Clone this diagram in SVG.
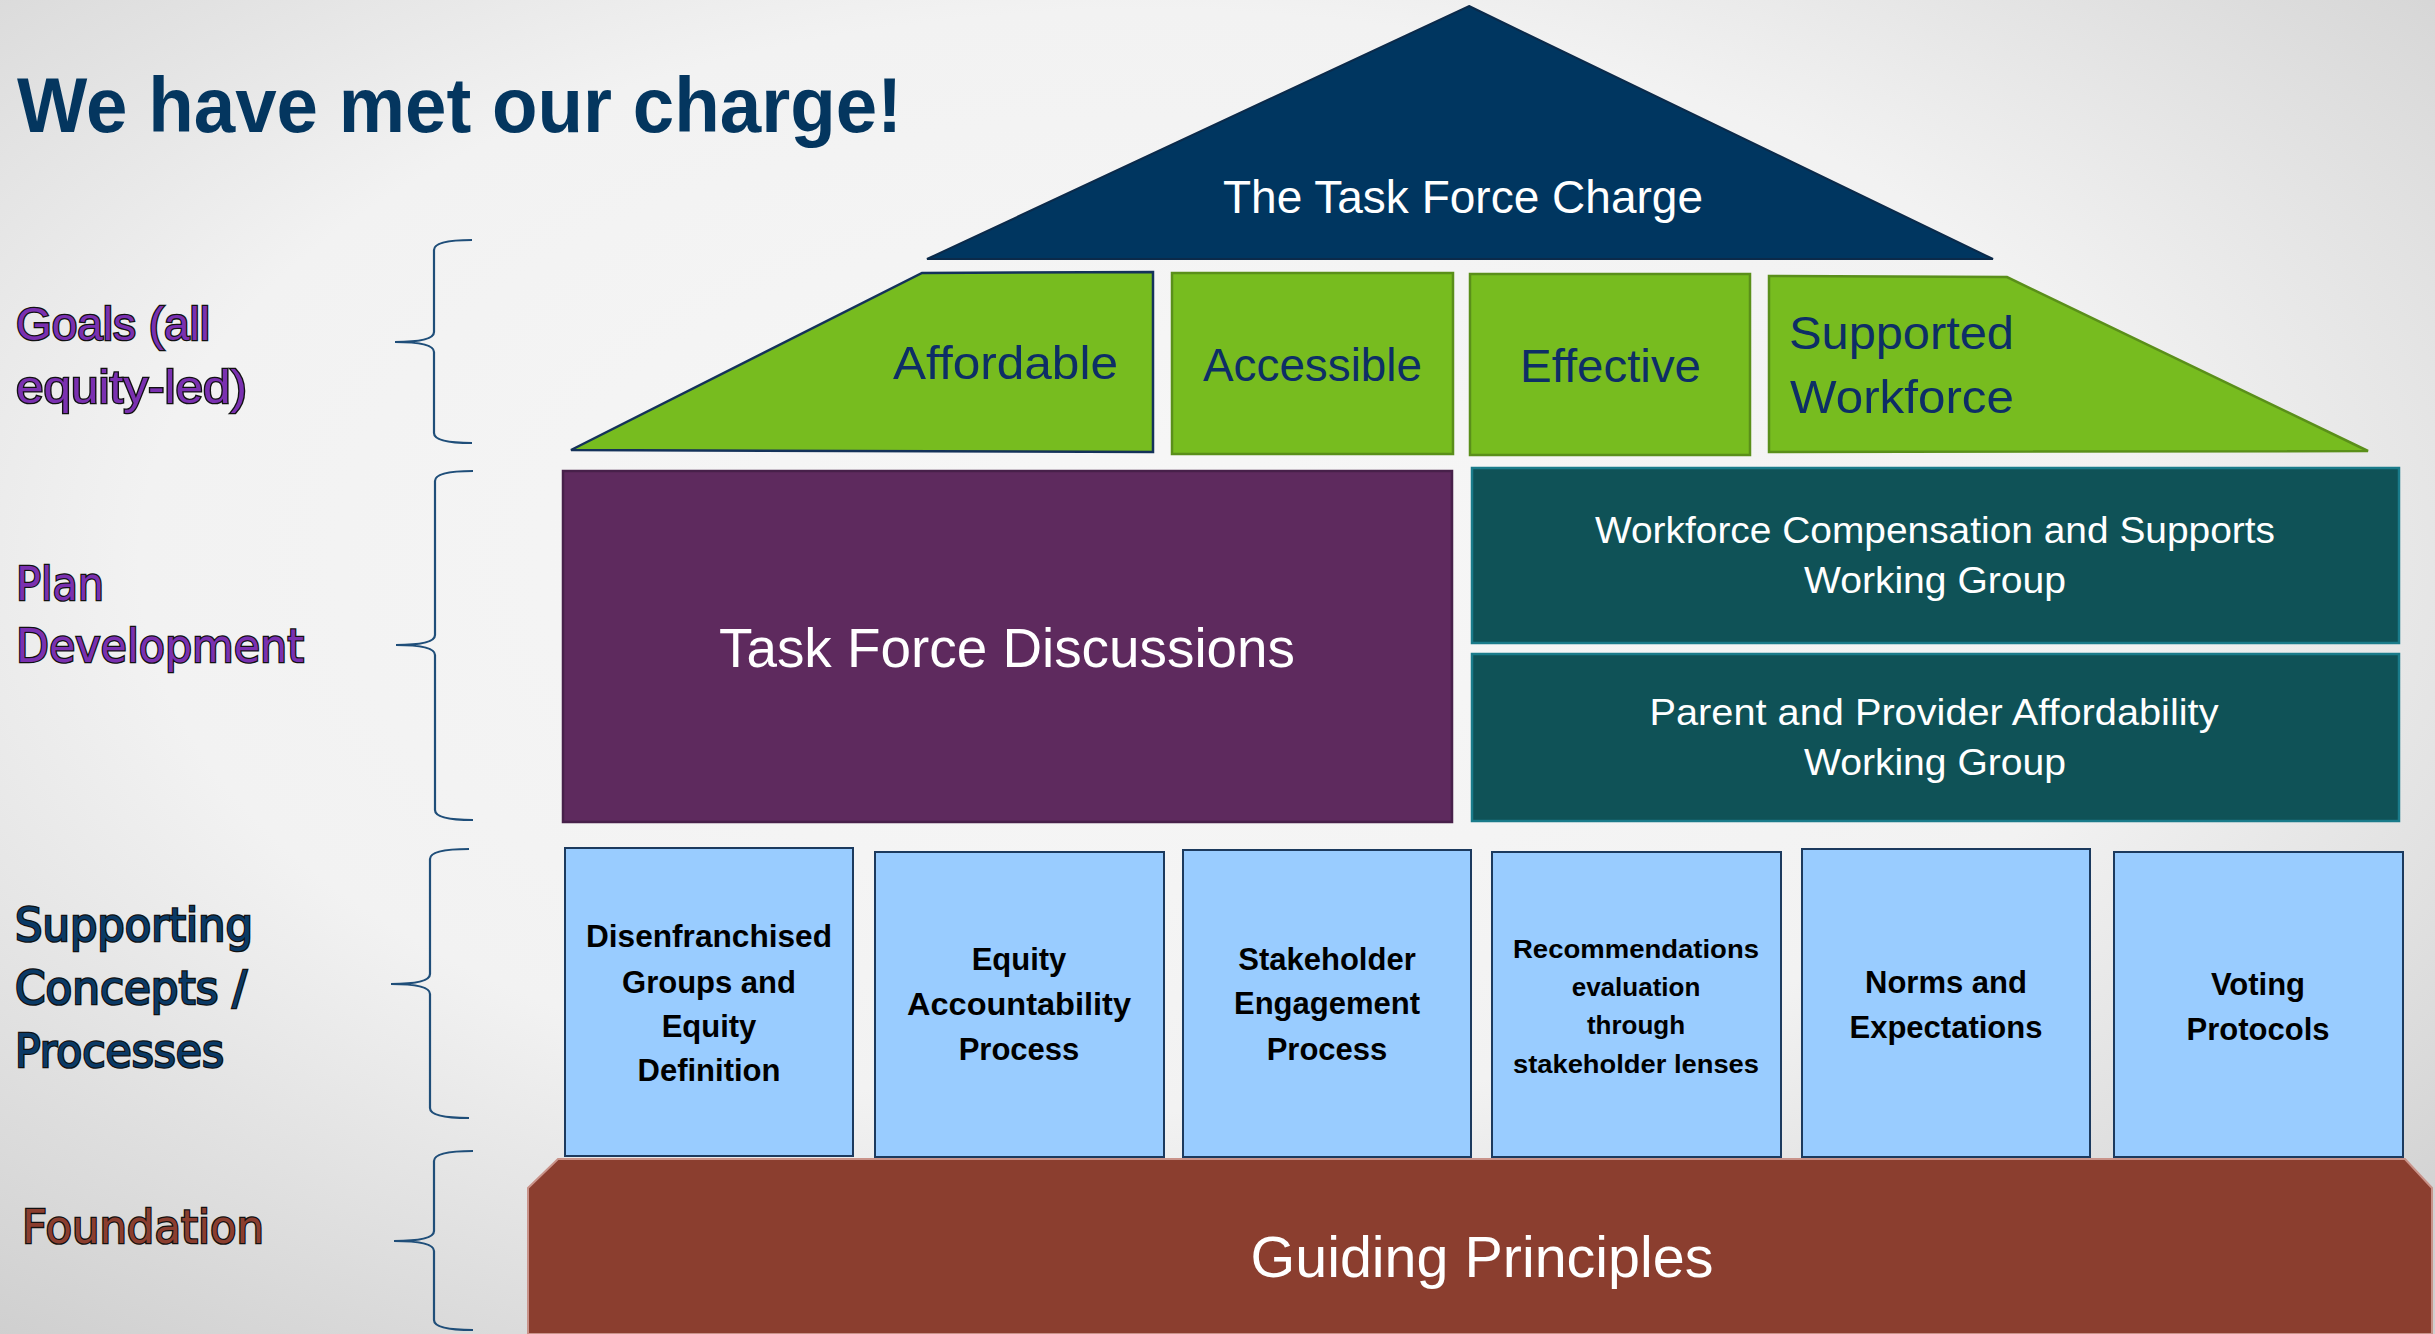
<svg xmlns="http://www.w3.org/2000/svg" width="2435" height="1334" viewBox="0 0 2435 1334">
<defs>
<radialGradient id="bg" cx="0.47" cy="0.42" r="0.75">
<stop offset="0" stop-color="#f7f7f7"/>
<stop offset="0.55" stop-color="#f2f2f2"/>
<stop offset="1" stop-color="#cfcfcf"/>
</radialGradient>
<style>
.brace{fill:none;stroke:#1f4e79;stroke-width:2.2}
.lbl{font-family:"DejaVu Sans",sans-serif;font-size:46px;stroke:#111;stroke-width:2.6;paint-order:stroke fill}
.goal{font-family:"Liberation Sans",Arial,sans-serif;font-size:47px;fill:#0d2e66}
.white{font-family:"Liberation Sans",Arial,sans-serif;fill:#ffffff}
.bx{fill:#99ccff;stroke:#1c3a5e;stroke-width:2}
.bt{font-family:"Liberation Sans",Arial,sans-serif;font-weight:bold;font-size:31px;fill:#000;text-anchor:middle}
.grn{fill:#77bc1f;stroke:#5a8f1a;stroke-width:2.5}
.teal{fill:#0f5257;stroke:#1a7b8a;stroke-width:2.5}
</style>
</defs>
<rect x="0" y="0" width="2435" height="1334" fill="url(#bg)"/>

<g id="title">
<text x="17" y="132" font-family="Liberation Sans, Arial, sans-serif" font-weight="bold" font-size="78" fill="#04365f" textLength="885" lengthAdjust="spacingAndGlyphs">We have met our charge!</text>
</g>

<g id="side-labels">
<text class="lbl" x="16" y="340" fill="#7a30b0" style="font-family:'Liberation Sans',Arial,sans-serif;font-size:47px" textLength="194" lengthAdjust="spacingAndGlyphs">Goals (all</text>
<text class="lbl" x="16" y="403" fill="#7a30b0" style="font-family:'Liberation Sans',Arial,sans-serif;font-size:47px" textLength="231" lengthAdjust="spacingAndGlyphs">equity-led)</text>
<text class="lbl" x="16" y="600" fill="#7a30b0" textLength="88" lengthAdjust="spacingAndGlyphs">Plan</text>
<text class="lbl" x="16" y="662" fill="#7a30b0" textLength="288" lengthAdjust="spacingAndGlyphs">Development</text>
<text class="lbl" x="15" y="941" fill="#0a3a66" textLength="238" lengthAdjust="spacingAndGlyphs">Supporting</text>
<text class="lbl" x="15" y="1004" fill="#0a3a66" textLength="232" lengthAdjust="spacingAndGlyphs">Concepts /</text>
<text class="lbl" x="15" y="1067" fill="#0a3a66" textLength="209" lengthAdjust="spacingAndGlyphs">Processes</text>
<text class="lbl" x="22" y="1243" fill="#8b3e2f" textLength="242" lengthAdjust="spacingAndGlyphs">Foundation</text>
</g>

<g id="connectors">
<path class="brace" d="M472,240 Q434,240 434,250 L434,332 Q434,342 395,342 Q434,342 434,352 L434,433 Q434,443 472,443"/>
<path class="brace" d="M473,471 Q435,471 435,481 L435,635 Q435,645 396,645 Q435,645 435,655 L435,810 Q435,820 473,820"/>
<path class="brace" d="M469,849 Q430,849 430,859 L430,974 Q430,984 391,984 Q430,984 430,994 L430,1108 Q430,1118 469,1118"/>
<path class="brace" d="M473,1151 Q434,1151 434,1161 L434,1231 Q434,1241 394,1241 Q434,1241 434,1251 L434,1320 Q434,1330 473,1330"/>
</g>

<g id="charge">
<polygon points="1469,6 1993,259 927,259" fill="#003660" stroke="#0b2a4a" stroke-width="2"/>
<text class="white" x="1463" y="213" font-size="46" text-anchor="middle" textLength="480" lengthAdjust="spacingAndGlyphs">The Task Force Charge</text>
</g>

<g id="goal-affordable">
<polygon points="571,450 922,273 1153,272 1153,452" fill="#77bc1f" stroke="#14325a" stroke-width="2.5"/>
<text class="goal" x="893" y="379" textLength="225" lengthAdjust="spacingAndGlyphs">Affordable</text>
</g>
<g id="goal-accessible">
<rect class="grn" x="1172" y="273" width="281" height="181"/>
<text class="goal" x="1203" y="381" textLength="219" lengthAdjust="spacingAndGlyphs">Accessible</text>
</g>
<g id="goal-effective">
<rect class="grn" x="1470" y="274" width="280" height="181"/>
<text class="goal" x="1520" y="382" textLength="181" lengthAdjust="spacingAndGlyphs">Effective</text>
</g>
<g id="goal-workforce">
<polygon class="grn" points="1769,276 2007,277 2368,451 1769,452"/>
<text class="goal" x="1789" y="349" textLength="225" lengthAdjust="spacingAndGlyphs">Supported</text>
<text class="goal" x="1790" y="413" textLength="224" lengthAdjust="spacingAndGlyphs">Workforce</text>
</g>

<g id="task-force-discussions">
<rect x="563" y="471" width="889" height="351" fill="#5e2a5e" stroke="#47204a" stroke-width="2.5"/>
<text class="white" x="719" y="667" font-size="55" textLength="576" lengthAdjust="spacingAndGlyphs">Task Force Discussions</text>
</g>
<g id="wg-workforce">
<rect class="teal" x="1472" y="468" width="927" height="175"/>
<text class="white" x="1935" y="543" font-size="37" text-anchor="middle" textLength="680" lengthAdjust="spacingAndGlyphs">Workforce Compensation and Supports</text>
<text class="white" x="1935" y="593" font-size="37" text-anchor="middle" textLength="262" lengthAdjust="spacingAndGlyphs">Working Group</text>
</g>
<g id="wg-affordability">
<rect class="teal" x="1472" y="654" width="927" height="167"/>
<text class="white" x="1934" y="725" font-size="37" text-anchor="middle" textLength="569" lengthAdjust="spacingAndGlyphs">Parent and Provider Affordability</text>
<text class="white" x="1935" y="775" font-size="37" text-anchor="middle" textLength="262" lengthAdjust="spacingAndGlyphs">Working Group</text>
</g>

<g id="foundation">
<polygon points="558,1159 2405,1159 2432,1188 2432,1334 528,1334 528,1188" fill="#8b3e2f" stroke="#c9938a" stroke-width="2"/>
<text class="white" x="1482" y="1277" font-size="57" text-anchor="middle" textLength="463" lengthAdjust="spacingAndGlyphs">Guiding Principles</text>
</g>

<g id="c-disenfranchised">
<rect class="bx" x="565" y="848" width="288" height="308"/>
<text class="bt" x="709" y="947" textLength="246" lengthAdjust="spacingAndGlyphs">Disenfranchised</text>
<text class="bt" x="709" y="993">Groups and</text>
<text class="bt" x="709" y="1037">Equity</text>
<text class="bt" x="709" y="1081">Definition</text>
</g>
<g id="c-accountability">
<rect class="bx" x="875" y="852" width="289" height="305"/>
<text class="bt" x="1019" y="970">Equity</text>
<text class="bt" x="1019" y="1015" textLength="224" lengthAdjust="spacingAndGlyphs">Accountability</text>
<text class="bt" x="1019" y="1060">Process</text>
</g>
<g id="c-stakeholder">
<rect class="bx" x="1183" y="850" width="288" height="307"/>
<text class="bt" x="1327" y="970">Stakeholder</text>
<text class="bt" x="1327" y="1014">Engagement</text>
<text class="bt" x="1327" y="1060">Process</text>
</g>
<g id="c-recommendations">
<rect class="bx" x="1492" y="852" width="289" height="305"/>
<text class="bt" x="1636" y="958" style="font-size:26px" textLength="246" lengthAdjust="spacingAndGlyphs">Recommendations</text>
<text class="bt" x="1636" y="996" style="font-size:26px">evaluation</text>
<text class="bt" x="1636" y="1034" style="font-size:26px">through</text>
<text class="bt" x="1636" y="1073" style="font-size:26px" textLength="246" lengthAdjust="spacingAndGlyphs">stakeholder lenses</text>
</g>
<g id="c-norms">
<rect class="bx" x="1802" y="849" width="288" height="308"/>
<text class="bt" x="1946" y="993">Norms and</text>
<text class="bt" x="1946" y="1038">Expectations</text>
</g>
<g id="c-voting">
<rect class="bx" x="2114" y="852" width="289" height="305"/>
<text class="bt" x="2258" y="995">Voting</text>
<text class="bt" x="2258" y="1040">Protocols</text>
</g>
</svg>
